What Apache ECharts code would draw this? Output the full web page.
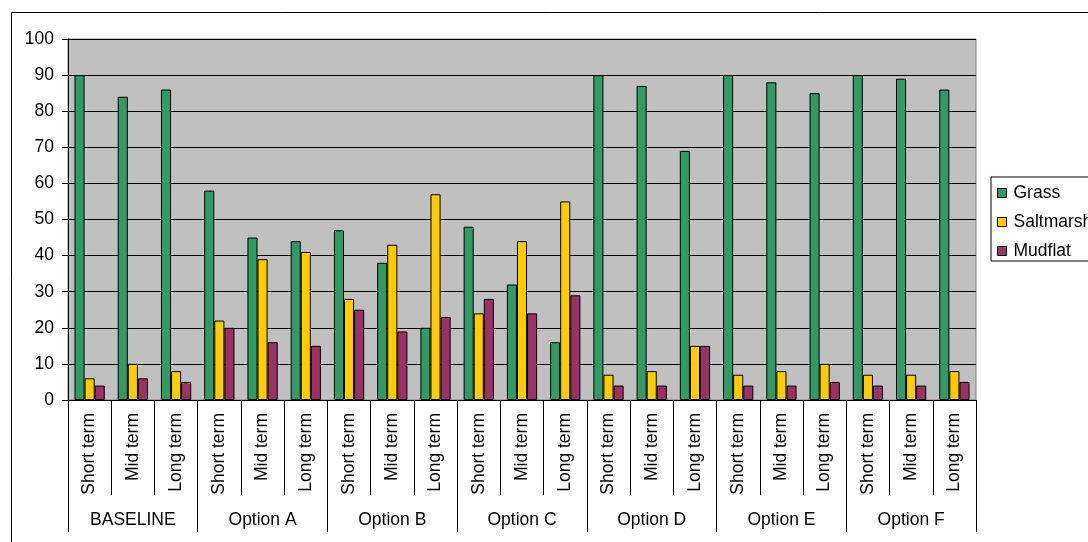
<!DOCTYPE html>
<html>
<head>
<meta charset="utf-8">
<script src="https://cdn.jsdelivr.net/npm/echarts@6/dist/echarts.min.js"></script>
<style>
html,body{margin:0;padding:0;background:#fff;}
#chart{width:1088px;height:542px;}
</style>
</head>
<body>
<div id="chart"></div>
<script>
const groups = ['BASELINE','Option A','Option B','Option C','Option D','Option E','Option F'];
const terms = ['Short term','Mid term','Long term'];
const seriesNames = ['Grass','Saltmarsh','Mudflat'];
const grass =     [90,84,86, 58,45,44, 47,38,20, 48,32,16, 90,87,69, 90,88,85, 90,89,86];
const saltmarsh = [6,10,8,   22,39,41, 28,43,57, 24,44,55, 7,8,15,   7,8,10,   7,7,8];
const mudflat =   [4,6,5,    20,16,15, 25,19,23, 28,24,29, 4,4,15,   4,4,5,    4,4,5];
const yTicks = [0,10,20,30,40,50,60,70,80,90,100];

const colors = ['#339966','#FFCC00','#993366'];
const FONT = "'Liberation Sans', Arial, sans-serif";
const FS = 17.5;

const cats = [];
groups.forEach(g => terms.forEach(t => cats.push(t)));
const values = [grass, saltmarsh, mudflat];

const chart = echarts.init(document.getElementById('chart'), null, {renderer:'canvas'});
chart.setOption({
  animation:false,
  backgroundColor:'#fff',
  textStyle:{fontFamily:FONT, fontSize:FS, color:'#000'},
  graphic:[{
    type:'rect', left:9, top:10, silent:true,
    shape:{x:0,y:0,width:1200,height:600},
    style:{fill:'none', stroke:'#000', lineWidth:1}
  }],
  grid:{left:68, top:39, width:908, height:361, show:true, backgroundColor:'#C0C0C0', borderColor:'#808080', borderWidth:1, containLabel:false},
  legend:{
    orient:'vertical', left:991, top:177,
    data:seriesNames,
    itemWidth:9, itemHeight:9, itemGap:11,
    padding:[7,20,1,6],
    borderColor:'#000', borderWidth:1, backgroundColor:'#fff',
    icon:'rect',
    textStyle:{fontFamily:FONT, fontSize:FS, color:'#000', lineHeight:17, padding:[0,0,0,2]},
    itemStyle:{borderColor:'#000', borderWidth:1}
  },
  xAxis:[{
    type:'category', data:cats, position:'bottom', gridIndex:0,
    axisLine:{show:true, lineStyle:{color:'#000', width:1}},
    axisTick:{show:true, interval:0, length:95, lineStyle:{color:'#000'}},
    axisLabel:{interval:0, rotate:90, margin:13, fontFamily:FONT, fontSize:FS, color:'#000'},
    splitLine:{show:false}
  },{
    type:'category', data:groups, position:'bottom', gridIndex:0,
    axisLine:{show:false},
    axisTick:{show:true, interval:0, length:132, lineStyle:{color:'#000'}},
    axisLabel:{interval:0, margin:111, fontFamily:FONT, fontSize:FS, color:'#000'},
    splitLine:{show:false}
  }],
  yAxis:{
    type:'value', min:yTicks[0], max:yTicks[yTicks.length-1], interval:10,
    axisLine:{show:true, lineStyle:{color:'#000'}},
    axisTick:{show:true, length:6, lineStyle:{color:'#000'}},
    axisLabel:{margin:14, fontFamily:FONT, fontSize:FS, color:'#000'},
    splitLine:{show:true, lineStyle:{color:'#000', width:1}}
  },
  series: seriesNames.map((n,i)=>({
    name:n, type:'bar', xAxisIndex:0, data:values[i],
    barGap:'0%', barCategoryGap:'30%',
    itemStyle:{color:colors[i], borderColor:'#000', borderWidth:1}
  }))
});
</script>
</body>
</html>
